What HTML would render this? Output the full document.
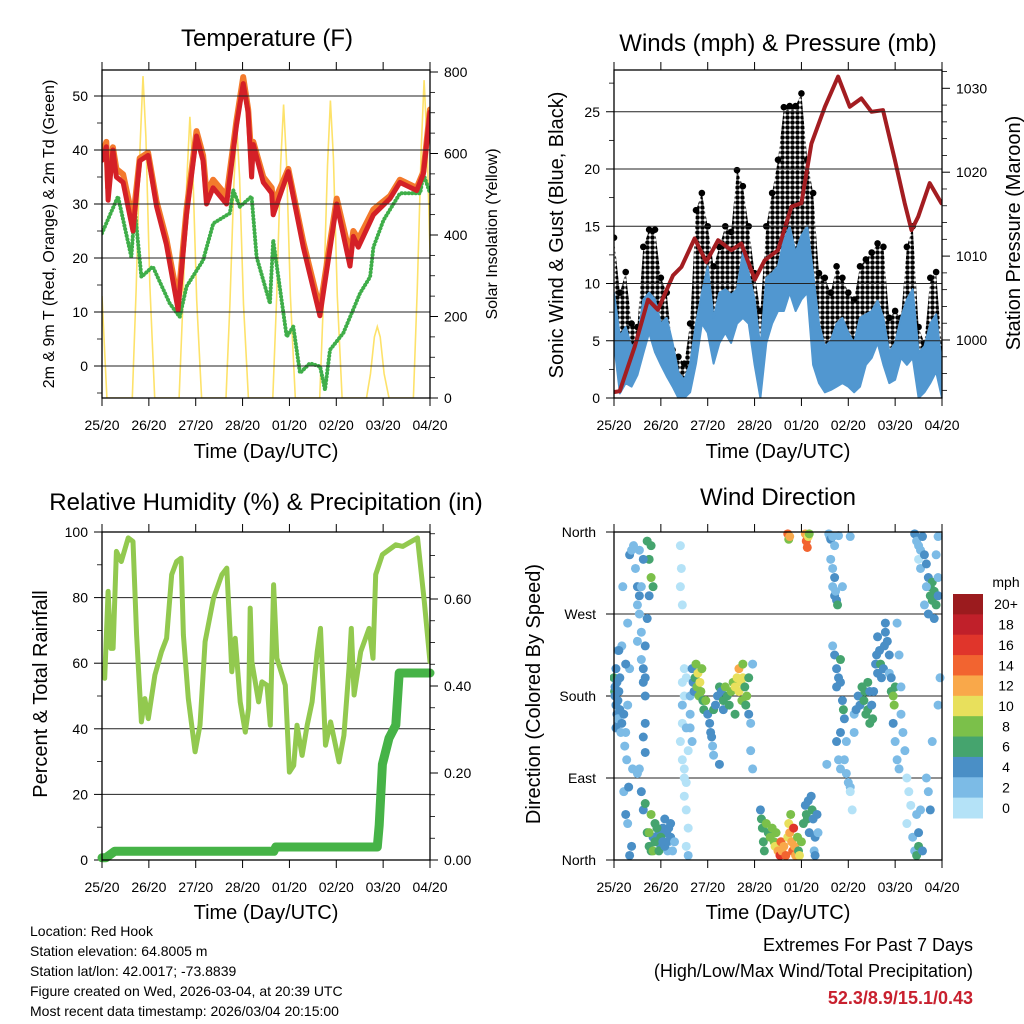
<!DOCTYPE html>
<html>
<head>
<meta charset="utf-8">
<style>
html,body{margin:0;padding:0;background:#fff;}
svg{display:block;font-family:"Liberation Sans",Arial,sans-serif;}
</style>
</head>
<body>
<svg id="root" width="1024" height="1024" viewBox="0 0 1024 1024" xmlns="http://www.w3.org/2000/svg">
<rect x="0" y="0" width="1024" height="1024" fill="#fff"/>
<defs>
<clipPath id="c1"><rect x="102" y="70" width="328" height="328"/></clipPath>
<clipPath id="c2"><rect x="614" y="70" width="328" height="328"/></clipPath>
<clipPath id="c3"><rect x="102" y="532" width="328" height="328"/></clipPath>
<clipPath id="c4"><rect x="610" y="528" width="336" height="336"/></clipPath>
<pattern id="dots" width="5" height="5" patternUnits="userSpaceOnUse">
<circle cx="2.5" cy="2.5" r="2.3" fill="#000"/>
</pattern>
</defs>

<text x="267" y="46" font-size="24" text-anchor="middle">Temperature (F)</text>
<text x="778" y="51" font-size="24" text-anchor="middle">Winds (mph) &amp; Pressure (mb)</text>
<text x="266" y="510" font-size="24" text-anchor="middle">Relative Humidity (%) &amp; Precipitation (in)</text>
<text x="778" y="505" font-size="24" text-anchor="middle">Wind Direction</text>

<text transform="translate(54,234) rotate(-90)" font-size="16" text-anchor="middle">2m &amp; 9m T (Red, Orange) &amp; 2m Td (Green)</text>
<text transform="translate(497,234) rotate(-90)" font-size="16" text-anchor="middle">Solar Insolation (Yellow)</text>
<text transform="translate(563,235) rotate(-90)" font-size="20" text-anchor="middle">Sonic Wind &amp; Gust (Blue, Black)</text>
<text transform="translate(1020,233) rotate(-90)" font-size="20" text-anchor="middle">Station Pressure (Maroon)</text>
<text transform="translate(47,694) rotate(-90)" font-size="20" text-anchor="middle">Percent &amp; Total Rainfall</text>
<text transform="translate(540,694) rotate(-90)" font-size="20" text-anchor="middle">Direction (Colored By Speed)</text>
<text x="266" y="458" font-size="20" text-anchor="middle">Time (Day/UTC)</text>
<text x="778" y="458" font-size="20" text-anchor="middle">Time (Day/UTC)</text>
<text x="266" y="919" font-size="20" text-anchor="middle">Time (Day/UTC)</text>
<text x="778" y="919" font-size="20" text-anchor="middle">Time (Day/UTC)</text>

<g font-size="14">
<text x="30" y="936">Location: Red Hook</text>
<text x="30" y="956">Station elevation: 64.8005 m</text>
<text x="30" y="976">Station lat/lon: 42.0017; -73.8839</text>
<text x="30" y="996">Figure created on Wed, 2026-03-04, at 20:39 UTC</text>
<text x="30" y="1016">Most recent data timestamp: 2026/03/04 20:15:00</text>
</g>
<g font-size="18" text-anchor="end">
<text x="973" y="951">Extremes For Past 7 Days</text>
<text x="973" y="977">(High/Low/Max Wind/Total Precipitation)</text>
<text x="973" y="1004" fill="#c8202e" font-weight="bold">52.3/8.9/15.1/0.43</text>
</g>

<g id="p1"></g>
<g id="p2"></g>
<g id="p3"></g>
<g id="p4"></g>
</svg>

<script>
// ---------- DATA ----------
const dayLabels = ["25/20","26/20","27/20","28/20","01/20","02/20","03/20","04/20"];

const tempHours = [0,2.2,3.1,5.6,7.4,10.8,15.9,19.3,23.6,27.9,33,39,43.3,48.4,51.8,53.5,56.9,63.8,68.9,72.3,74.9,76.6,77.5,82.6,86.9,87.7,95.4,103.1,111.6,120.2,127,128.7,131.3,139,147.5,152.6,161.2,164.6,168];
const temp2m = [38.1,40.6,30.7,40,35,34,25,38,39,29.6,22.5,10.4,28,42.6,38,30,33,30,44.6,52.3,46.9,35,41,34,32,28,36,22,9.3,30,18.5,24,22,28,31,34,32.5,35.6,47];
const temp9m = [39,41.5,33,40.5,36.5,35.5,27,38.5,39.5,30.5,23.5,12,29,43.5,39,32,34.5,31.5,45.5,53.5,47.5,38,41.5,35,33,30,36.5,23,10.5,31,20.5,25,23.5,29,31.5,34.5,33,36,47.5];

const dewHours = [0,8.2,15,16.8,20.2,26,34.7,39.8,43.3,51.8,57,65.5,67.2,70.6,76.6,79.2,86,87.7,94.6,98,101.4,106.5,111.7,114.2,116.8,123.6,132.2,137.3,139,144.2,152.7,163,164.6,168];
const dewPoint = [24.6,31.4,20.2,29,16.5,18.4,11.6,9.1,14.7,19.6,26.4,28.3,32.6,29.5,31.4,20.2,11.6,23.3,5.4,7.3,-1.3,0.5,-0.1,-4.4,3,6.1,13.5,16.5,22,27,32,32,35.6,32];

const solarHours = [0,2.5,15.5,17.5,19.5,21,22.5,24.5,27,39.5,41.5,43.5,45,46.5,48.5,51,63.5,65.5,67.5,69,70.5,72.5,75,87.5,89.5,91.5,93,94.5,96.5,99,111.5,113.5,115.5,117,118.5,120.5,123,135.5,137.5,139.5,141,142.5,144.5,147,159.5,161.5,163.5,165,166.5,168.5,171];
const solarValues = [250,0,0,270,620,790,640,280,0,0,240,540,690,560,240,0,0,230,520,670,540,230,0,0,250,570,720,580,250,0,0,250,570,730,590,250,0,0,60,150,175,150,60,0,0,270,610,780,620,270,0];

const windHours = [0,3,6,9,12,15,18,21,24,27,30,33,36,39,42,45,48,51,54,57,60,63,66,69,72,75,78,81,84,87,90,93,96,99,102,105,108,111,114,117,120,123,126,129,132,135,138,141,144,147,150,153,156,159,162,165,168];
const windHigh = [9.2,5.4,6.2,4.5,5,8.6,9.2,8.6,6.5,7,4.8,2.2,1.6,3,6.5,9.2,11.5,7,9.2,9.5,9,9.5,12.7,10.9,8.6,4.4,10.5,10.9,11.5,13.8,15,12.7,14.2,15,10.9,6.5,4.5,5,6.5,7,5.7,4.8,7,7.3,7.6,8.5,7,4,4.8,7,8.6,9.5,4,4.5,6.5,7.3,2.9];
const windLow = [4.8,0.4,1.3,1,2,3.9,5.7,4,2.9,1.9,1,0,0,0.5,3,6.5,5.7,3,4.8,5.7,4.8,6.5,7,6.5,2.9,0,4.8,6.5,7.6,7.6,9.2,7.6,8.6,9.2,2.9,1.3,0.5,0.7,1,1.3,1,0.5,1,2.9,3.5,4.8,2.9,1.3,1.6,3.5,2.9,3.5,0,0.5,1.3,2.3,0];
const gustHigh = [14,9.2,11,6.5,6.2,13.2,14.7,14.7,10.5,9.2,4.2,3.6,3,6.5,16.4,17.9,15,11.5,13.2,15,14.5,19.9,18.5,15,10.9,7.6,15,17.9,20.8,25.4,25.5,25.5,26.6,20.8,17.9,10.9,10.5,9.2,11.5,10.5,9.2,8.6,11.5,12.1,12.7,13.5,13.2,7,7.6,7,13.2,15,6.2,4.8,10.5,11,4.2];

const presHours = [0.3,2.9,10.6,17.4,22.5,30.2,34.5,41.3,47.3,53.3,60.1,65.2,72.1,77.2,84,90.9,96,101.1,108,114.8,120.8,126.7,131.9,137.8,143.8,148.9,152.4,155.8,161.7,167.7];
const presValues = [993.8,993.9,999.2,1004.8,1003.6,1007.7,1008.7,1012.1,1009.3,1011.9,1010.7,1011.5,1007.2,1009.5,1010.7,1015.9,1016.3,1023.4,1027.8,1031.4,1027.8,1028.8,1027.2,1027.4,1021.5,1016.3,1013.1,1014.7,1018.7,1016.3];

const rhHours = [0,1.4,3.1,4.5,5.7,7.4,9.9,13.4,15.9,17.7,20.2,21.9,23.7,27.1,30.5,33.1,35.7,38.2,40.5,41.7,44.2,47.7,50.2,52.8,57.1,61.4,63.9,65.6,66.5,68.2,70.8,73.4,75.1,75.9,76.8,80.2,81.9,84.5,86.2,87.9,89.6,93.9,96,98.2,99.9,102.5,105.1,107.6,110.2,111.9,114.5,117.1,121.4,123.9,126.5,127.7,129.1,132.5,136.8,138.8,140.2,143.6,150.5,154,161.6,165.1,168];
const rhValues = [58.4,55.4,81.9,64.5,64.5,94.1,91,98.2,97.1,68.6,42.1,49.2,43.1,56.4,63.5,67.6,87,91,92,68.6,49.2,33,41.1,66.6,79.8,87,89,68.6,57.4,67.6,48.2,39,46.2,76.8,60.4,48.2,54.3,53.3,41.1,83.9,61.5,53.3,26.8,28.8,41.1,31.9,41.1,48.2,63.5,70.6,35,42.1,29.9,38,58.4,70.6,50.3,63.5,70.6,61.5,87,93.1,96.1,95.6,98.2,78.8,60.4];

const precipHours = [0,2,6.5,88,89,141,142,143.6,147,150.5,152.2,168];
const precipValues = [0.005,0.005,0.02,0.02,0.03,0.03,0.08,0.22,0.28,0.31,0.43,0.43];

const dirHours = [
0,0.3,0.5,1,1.5,2,2.5,3,1,2,0.5,3.5,2.5,1.5,3,1,2,4,5,6,7,5.5,6.5,8,7,4,6,2.5,5,7.5,6,7,8,9,9.5,4.5,8,9,
11,12,13,12,13,14,12,14,15,15,16,16,15,16,13,12,14,15,16,17,18,19,20,21,19,22,23,24,25,26,27,27.5,28,18,19,20,19,18,16,16,17,10,13,15,17,14,18,20,21,22,23,24,25,26,27,28,29,30,31,29,
34,34.5,34,35,35,36,35,34,35,36,36,37,36,37,38,37,38,39,39,39,40,38,36,37,35,37,
40,40.5,41,41.5,42,42.5,43,43.5,44,44.5,45,45.5,46,47,48,49,49.5,50,50.5,51,51,52,53,54,55,56,56,57,58,59,60,61,62,62,63,64,64,65,65.5,66,66,67,67.5,68,69,69,70,70,71,71,54,
75,75.5,76,76.5,77,78,79,80,81,82,82.5,83,84,85,85.5,86,87,88,89,89.5,90,90.5,91,91.5,92,92.5,93,94,94.5,95,96,97,98,98.5,99,99.5,100,101,101.5,102,102.5,103,103,104,104.5,109,89,89.5,90,98,98.5,99,99.5,100,
110,110.5,111,112,113,111,112,113,112,113,114,114.5,113.5,115,117,121,112,113,114,115,116,114,116,117,117.5,118,116,114,115,116,118,119,119,120,121,121,122,123,123,124,125,126,127,128,128.5,129,130,131,130,131,132,132.5,133,134,134.5,135,135,136,136.5,137,138,138.5,139,139,140,141,141,142,142,143,143.5,144,143,144,145,146,145,146,147,147,148,149,150,151,152,150,153,154,155,156,155,156,157,158,
154,155,156,157,156,157,158,159,160,161,162,162,163,163,164,165,166,166,165,166,160,159,161,164,167,166,163,160,161,162];
const dirDegrees = [
200,185,190,170,160,175,150,165,145,155,180,140,185,195,200,210,230,150,160,140,170,125,110,210,260,235,215,230,75,80,50,40,5,15,100,300,335,340,
320,280,270,300,290,250,240,220,210,195,180,150,135,118,100,95,75,55,62,30,15,10,25,40,50,20,30,15,35,45,30,10,20,330,310,300,345,290,235,200,265,345,340,330,350,300,30,10,20,35,10,25,20,15,20,35,25,10,20,40,
345,320,300,280,195,180,150,130,110,100,90,85,70,55,35,15,5,180,160,145,130,120,210,200,170,145,
210,195,185,200,215,190,205,180,195,185,210,175,165,175,160,150,140,135,125,115,165,170,180,190,185,165,175,190,180,170,185,195,190,160,200,210,185,195,175,200,215,190,170,180,200,160,150,120,100,215,105,
55,45,35,20,10,40,30,25,35,20,15,30,10,5,20,10,15,5,25,40,30,50,20,10,35,15,5,25,10,5,20,40,60,50,45,65,30,70,55,45,10,25,5,50,30,105,358,352,355,358,350,343,355,358,
358,355,352,355,345,330,320,310,300,290,285,280,295,356,300,355,235,225,210,200,195,190,220,175,165,155,140,130,110,100,110,130,95,85,80,75,55,140,160,165,180,170,190,175,185,160,165,150,195,185,170,155,185,215,225,205,245,230,215,200,210,235,250,260,240,225,205,200,185,180,170,190,150,130,110,100,260,225,190,160,140,120,90,75,60,40,25,10,50,30,5,15,55,10,
358,350,345,340,330,320,355,335,325,310,300,290,285,305,295,280,290,310,335,355,300,280,270,265,200,170,130,90,75,55];
const dirSpeeds = [
6,6,4,4,4,4,4,4,4,2,4,2,4,4,4,4,2,4,4,2,2,2,2,2,2,2,4,4,2,4,4,2,4,4,2,2,4,2,
2,2,2,4,4,2,2,2,4,4,4,4,4,4,2,2,4,4,6,6,6,6,4,6,8,6,4,4,4,4,4,2,2,6,8,6,6,4,4,4,4,2,2,4,6,2,8,8,6,6,6,6,4,4,4,4,4,2,2,4,
0,0,0,0,0,0,0,0,0,0,0,0,0,0,0,0,2,2,2,2,2,0,0,0,2,2,
4,4,4,6,8,8,10,8,10,8,8,6,6,8,4,4,4,4,2,2,6,4,4,6,4,4,6,8,6,6,8,8,10,6,10,12,10,10,8,10,8,6,6,8,6,4,2,2,2,2,4,
4,6,6,6,6,8,6,8,8,8,10,8,12,16,14,12,12,14,10,10,12,8,12,14,16,12,12,8,6,10,8,6,4,6,6,4,4,4,6,4,2,4,4,4,2,2,14,8,12,12,14,14,10,8,
2,2,4,2,2,2,2,4,2,4,4,6,2,2,2,2,2,4,4,4,4,4,6,4,6,4,4,4,2,2,2,2,2,2,2,0,0,2,2,4,4,4,6,6,6,6,6,6,6,4,4,6,4,4,4,4,4,4,6,4,4,4,4,4,4,4,2,4,6,8,8,6,4,2,2,2,2,2,2,2,2,2,0,0,0,0,2,2,2,4,6,6,2,4,
4,2,2,2,0,2,4,4,4,4,6,6,6,6,6,6,4,2,2,2,2,2,4,4,2,2,2,2,2,4];

const speedLabels = ["0","2","4","6","8","10","12","14","16","18","20+"];
const speedColors = ["#b4e2f7","#7cbbe6","#4a8fc6","#45a46e","#7bc04a","#e8e05c","#f9a84a","#f26430","#e0352b","#c0202a","#9b1b1e"];

// ---------- HELPERS ----------
const NS = "http://www.w3.org/2000/svg";
function mk(tag, attrs, parent){
  const e = document.createElementNS(NS, tag);
  for (const k in attrs) e.setAttribute(k, attrs[k]);
  parent.appendChild(e);
  return e;
}
const P1 = {x0:102,x1:430,y0:70,y1:398};
const P2 = {x0:614,x1:942,y0:70,y1:398};
const P3 = {x0:102,x1:430,y0:532,y1:860};
const P4 = {x0:614,x1:942,y0:532,y1:860};
function xT(P, h){ return P.x0 + h/168*(P.x1-P.x0); }
const yTemp = v => 366 - v*5.4;
const ySolar = v => 398 - v*0.4075;
const yWind = v => 398 - v*11.45;
const yPres = v => 340 - (v-1000)*8.39;
const yRH = v => 860 - v*3.28;
const yPrecip = v => 860 - v*435;
const yDir = v => 860 - v*(328/360);
function pathFrom(P, hs, vs, fy){
  let d = "";
  const n = Math.min(hs.length, vs.length);
  for (let i=0;i<n;i++) d += (i?"L":"M") + xT(P,hs[i]).toFixed(1) + "," + fy(vs[i]).toFixed(1);
  return d;
}
function frame(P, g){
  const r = mk("rect",{x:P.x0,y:P.y0,width:P.x1-P.x0,height:P.y1-P.y0,fill:"none",stroke:"#000","stroke-width":1.3},g);
  
  
}
function xAxis(P, g){
  for (let i=0;i<8;i++){
    const x = xT(P, i*24);
    const t1 = mk("line",{x1:x,x2:x,y1:P.y1,y2:P.y1+8,stroke:"#000","stroke-width":1},g);
    
    
    const t2 = mk("line",{x1:x,x2:x,y1:P.y0,y2:P.y0-8,stroke:"#000","stroke-width":1},g);
    
    
    const lb = mk("text",{x:x,y:P.y1+32,"font-size":14,"text-anchor":"middle"},g);
    lb.textContent = dayLabels[i];
    
    
  }
}
function yAxis(P, g, side, fy, majors, minors, fmt, grid){
  const x = side==="left" ? P.x0 : P.x1;
  const dir = side==="left" ? -1 : 1;
  majors.forEach(v=>{
    const y = fy(v);
    if (grid && y>P.y0+1 && y<P.y1-1){
      const gl = mk("line",{x1:P.x0,x2:P.x1,y1:y,y2:y,stroke:"#222","stroke-width":1},g);
      
      
    }
    const t = mk("line",{x1:x,x2:x+dir*8,y1:y,y2:y,stroke:"#000","stroke-width":1},g);
    
    
    const lb = mk("text",{x:x+dir*14,y:y+5,"font-size":14,"text-anchor":side==="left"?"end":"start"},g);
    lb.textContent = fmt(v);
    
    
  });
  minors.forEach(v=>{
    const y = fy(v);
    if (y < P.y0 || y > P.y1) return;
    const t = mk("line",{x1:x,x2:x+dir*5,y1:y,y2:y,stroke:"#000","stroke-width":0.8},g);
    
    
  });
}
function range(a,b,s){ const r=[]; for(let v=a; v<=b+1e-9; v+=s) r.push(+v.toFixed(4)); return r; }

// ---------- PANEL 1: TEMPERATURE ----------
(function(){
  const g = document.getElementById("p1");
  const P = P1;
  const cg = mk("g",{"clip-path":"url(#c1)"},g);
  
  
  const sol = mk("path",{d:pathFrom(P,solarHours,solarValues,ySolar),fill:"none",stroke:"#fde26a","stroke-width":1.6},cg);
  
  
  yAxis(P, g, "left", yTemp, [0,10,20,30,40,50], range(-5,55,5).filter(v=>v%10!==0), v=>String(v), true);
  yAxis(P, g, "right", ySolar, [0,200,400,600,800], range(50,750,50).filter(v=>v%200!==0), v=>String(v), false);
  const dp = mk("path",{d:pathFrom(P,dewHours,dewPoint,yTemp),fill:"none",stroke:"#3fae49","stroke-width":4,"stroke-dasharray":"0.1 3.4","stroke-linecap":"round","stroke-linejoin":"round"},cg);
  
  
  const t9 = mk("path",{d:pathFrom(P,tempHours,temp9m,yTemp),fill:"none",stroke:"#f37a2c","stroke-width":6,"stroke-linejoin":"round","stroke-linecap":"round"},cg);
  
  
  const t2 = mk("path",{d:pathFrom(P,tempHours,temp2m,yTemp),fill:"none",stroke:"#d42027","stroke-width":5,"stroke-linejoin":"round","stroke-linecap":"round"},cg);
  
  
  frame(P,g);
  xAxis(P,g);
})();

// ---------- PANEL 2: WINDS ----------
(function(){
  const g = document.getElementById("p2");
  const P = P2;
  const cg = mk("g",{"clip-path":"url(#c2)"},g);
  
  
  let d = "";
  for (let i=0;i<windHours.length;i++) d += (i?"L":"M")+xT(P,windHours[i]).toFixed(1)+","+yWind(gustHigh[i]).toFixed(1);
  for (let i=windHours.length-1;i>=0;i--) d += "L"+xT(P,windHours[i]).toFixed(1)+","+yWind(windLow[i]).toFixed(1);
  const gp = mk("path",{d:d+"Z",fill:"url(#dots)",stroke:"none"},cg);
  
  
  for (let i=0;i<windHours.length;i++){
    const c = mk("circle",{cx:xT(P,windHours[i]),cy:yWind(gustHigh[i]),r:3.3,fill:"#000"},cg);
    
    
  }
  let d2 = "";
  for (let i=0;i<windHours.length;i++) d2 += (i?"L":"M")+xT(P,windHours[i]).toFixed(1)+","+yWind(windHigh[i]).toFixed(1);
  for (let i=windHours.length-1;i>=0;i--) d2 += "L"+xT(P,windHours[i]).toFixed(1)+","+yWind(windLow[i]).toFixed(1);
  const wb = mk("path",{d:d2+"Z",fill:"#5197d0",stroke:"#5197d0","stroke-width":2,"stroke-linejoin":"round"},cg);
  
  
  yAxis(P, g, "left", yWind, [0,5,10,15,20,25], [2.5,7.5,12.5,17.5,22.5,27.5], v=>String(v), true);
  yAxis(P, g, "right", yPres, [1000,1010,1020,1030], range(994,1034,2).filter(v=>v%10!==0), v=>String(v), false);
  const pr = mk("path",{d:pathFrom(P,presHours,presValues,yPres),fill:"none",stroke:"#a31d21","stroke-width":4,"stroke-linejoin":"round","stroke-linecap":"round"},cg);
  
  
  frame(P,g);
  xAxis(P,g);
})();

// ---------- PANEL 3: HUMIDITY ----------
(function(){
  const g = document.getElementById("p3");
  const P = P3;
  yAxis(P, g, "left", yRH, [0,20,40,60,80,100], [10,30,50,70,90], v=>String(v), true);
  yAxis(P, g, "right", yPrecip, [0,0.2,0.4,0.6], range(0.05,0.75,0.05).filter(v=>Math.abs(v*5-Math.round(v*5))>1e-6), v=>v.toFixed(2), false);
  const cg = mk("g",{"clip-path":"url(#c3)"},g);
  
  
  const rh = mk("path",{d:pathFrom(P,rhHours,rhValues,yRH),fill:"none",stroke:"#92c94f","stroke-width":5,"stroke-linejoin":"round","stroke-linecap":"round"},cg);
  
  
  const pc = mk("path",{d:pathFrom(P,precipHours,precipValues,yPrecip),fill:"none",stroke:"#46b347","stroke-width":9,"stroke-linejoin":"round","stroke-linecap":"round"},g);
  
  
  frame(P,g);
  xAxis(P,g);
})();

// ---------- PANEL 4: WIND DIRECTION ----------
(function(){
  const g = document.getElementById("p4");
  const P = P4;
  const names = ["North","East","South","West","North"];
  [0,90,180,270,360].forEach((v,i)=>{
    const y = yDir(v);
    if (i>0 && i<4){
      const gl = mk("line",{x1:P.x0,x2:P.x1,y1:y,y2:y,stroke:"#222","stroke-width":1},g);
      
      
    }
    const t = mk("line",{x1:P.x0,x2:P.x0-8,y1:y,y2:y,stroke:"#000","stroke-width":1},g);
    
    
    const lb = mk("text",{x:P.x0-18,y:y+5,"font-size":14,"text-anchor":"end"},g);
    lb.textContent = names[i];
    
    
  });
  const cg = mk("g",{"clip-path":"url(#c4)"},g);
  
  
  const n = Math.min(dirHours.length, dirDegrees.length, dirSpeeds.length);
  for (let i=0;i<n;i++){
    const idx = Math.min(10, Math.floor(dirSpeeds[i]/2));
    const c = mk("circle",{cx:xT(P,dirHours[i]),cy:yDir(dirDegrees[i]),r:4.5,fill:speedColors[idx]},cg);
    
    
  }
  frame(P,g);
  xAxis(P,g);
  const bx = 953, by = 594, bw = 30, bh = 224/11;
  const mph = mk("text",{x:1006,y:587,"font-size":14,"text-anchor":"middle"},g);
  mph.textContent = "mph";
  
  
  for (let k=0;k<11;k++){
    const ci = 10-k;
    const r = mk("rect",{x:bx,y:by+k*bh,width:bw,height:bh+0.5,fill:speedColors[ci]},g);
    
    
    const lb = mk("text",{x:1006,y:by+k*bh+bh/2+5,"font-size":14,"text-anchor":"middle"},g);
    lb.textContent = speedLabels[ci];
    
    
  }
})();
</script>
</body>
</html>
